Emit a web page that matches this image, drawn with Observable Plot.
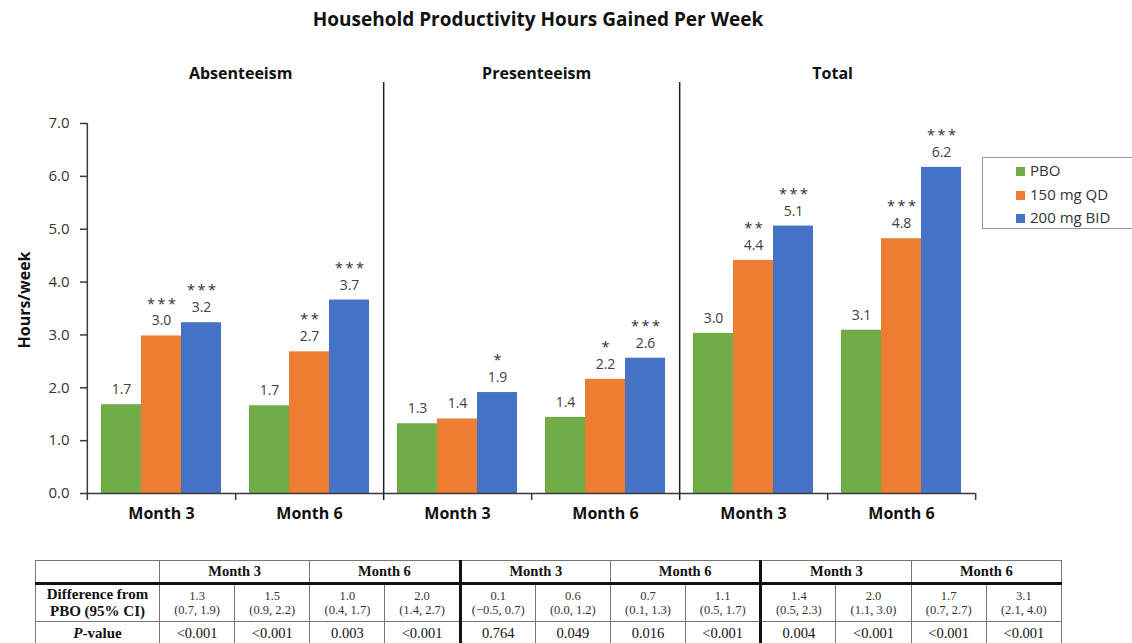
<!DOCTYPE html>
<html><head><meta charset="utf-8">
<script src="https://cdn.jsdelivr.net/npm/d3@7"></script>
<script src="https://cdn.jsdelivr.net/npm/@observablehq/plot@0.6"></script>
<style>
body{margin:0;background:#fff;}
#wrap{position:relative;width:1132px;height:643px;overflow:hidden;font-family:"Open Sans",sans-serif;color:#222;}
#title{position:absolute;left:0;top:6px;width:1076px;text-align:center;font-weight:bold;font-size:19px;color:#111;}
#chart{position:absolute;left:0;top:40px;}
#ylab{position:absolute;left:24px;top:300px;transform:translate(-50%,-50%) rotate(-90deg);font-weight:bold;font-size:16px;white-space:nowrap;color:#111;}
#legend{position:absolute;left:982px;top:157px;width:170px;height:72px;border:1.5px solid #999;box-sizing:border-box;}
.li{position:absolute;left:33px;font-size:15px;color:#333;line-height:20px;white-space:nowrap;}
.li span{display:inline-block;width:9px;height:9px;margin-right:5px;vertical-align:0px;}
#tbl{position:absolute;left:35px;top:560px;border-collapse:collapse;table-layout:fixed;width:1027px;font-family:"Liberation Serif","Times New Roman",serif;color:#111;}
#tbl td{border:1px solid #777;text-align:center;padding:0;}
#tbl tr.h td{font-weight:bold;font-size:14.5px;height:21px;border-bottom:3px solid #111;}
#tbl tr.d td{font-size:12.5px;line-height:14px;height:36px;color:#333;}
#tbl tr.p td{font-size:14.5px;height:22px;}
#tbl tr td.rh{font-weight:bold;font-size:15px;line-height:17px;color:#111;}
#tbl tr td.sep{border-left:3px solid #111;}
</style></head>
<body><div id="wrap">
<div id="title">Household Productivity Hours Gained Per Week</div>
<div id="chart"></div>
<div id="ylab">Hours/week</div>
<div id="legend"></div>
<table id="tbl"></table>
</div>
<script>
const panels = ["Absenteeism", "Presenteeism", "Total"];
const months = ["Month 3", "Month 6"];
const series = ["PBO", "150 mg QD", "200 mg BID"];
const colors = ["#70AD47", "#ED7D31", "#4472C4"];
// values per panel: [month][series]
const absenteeism = [[1.68, 2.98, 3.23], [1.66, 2.68, 3.66]];
const presenteeism = [[1.32, 1.41, 1.91], [1.44, 2.16, 2.56]];
const total = [[3.03, 4.41, 5.06], [3.09, 4.82, 6.17]];
const absenteeismStars = [["", "***", "***"], ["", "**", "***"]];
const presenteeismStars = [["", "", "*"], ["", "*", "***"]];
const totalStars = [["", "**", "***"], ["", "***", "***"]];
const yTicks = [0, 1, 2, 3, 4, 5, 6, 7];

// table
const diffEst = ["1.3","1.5","1.0","2.0","0.1","0.6","0.7","1.1","1.4","2.0","1.7","3.1"];
const diffCI = ["(0.7, 1.9)","(0.9, 2.2)","(0.4, 1.7)","(1.4, 2.7)","(\u22120.5, 0.7)","(0.0, 1.2)","(0.1, 1.3)","(0.5, 1.7)","(0.5, 2.3)","(1.1, 3.0)","(0.7, 2.7)","(2.1, 4.0)"];
const pValues = ["<0.001","<0.001","0.003","<0.001","0.764","0.049","0.016","<0.001","0.004","<0.001","<0.001","<0.001"];

const valuesByPanel = [absenteeism, presenteeism, total];
const starsByPanel = [absenteeismStars, presenteeismStars, totalStars];
const groups = [];
const data = [];
panels.forEach((p, pi) => months.forEach((m, mi) => {
  const g = p + "|" + m;
  groups.push(g);
  series.forEach((s, si) => data.push({g, panel: p, month: m, series: s,
    value: valuesByPanel[pi][mi][si], stars: starsByPanel[pi][mi][si]}));
}));
const panelFirst = panels.map(p => p + "|" + months[0]);
const panelLast = panels.map(p => p + "|" + months[months.length - 1]);

const W = 1132, H = 500, ML = 86, MR = 156, MT = 83, MB = 47;
const fw = (W - ML - MR) / groups.length;
const lineColor = "#3a3a3a";

const chart = Plot.plot({
  width: W, height: H,
  marginLeft: ML, marginRight: MR, marginTop: MT, marginBottom: MB,
  style: {fontFamily: "'Open Sans', sans-serif", overflow: "visible"},
  fx: {domain: groups, padding: 0, axis: null},
  x: {domain: series, paddingInner: 0, paddingOuter: 0.32, axis: null},
  y: {domain: [0, 7], axis: null},
  color: {domain: series, range: colors},
  marks: [
    Plot.barY(data, {fx: "g", x: "series", y: "value", fill: "series"}),
    Plot.text(data, {fx: "g", x: "series", y: "value", text: d => d.value.toFixed(1),
      dy: -15, fontSize: 14, fill: "#404040"}),
    Plot.text(data, {fx: "g", x: "series", y: "value", text: d => d.stars.split("").join("\u2009"),
      dy: -32, fontSize: 14.5, fill: "#303030"}),
    Plot.ruleY([0], {stroke: lineColor, strokeWidth: 1.5}),
    // y axis line with lower tick
    Plot.ruleX(panelFirst.slice(0, 1), {fx: d => d, x: null, y1: 7, y2: 0, dx: -fw / 2, insetBottom: -7, stroke: lineColor, strokeWidth: 1.5}),
    // panel separators
    Plot.ruleX(panelLast.slice(0, -1), {fx: d => d, x: null, y1: 7, y2: 0, dx: fw / 2, insetTop: -41, insetBottom: -7, stroke: "#222", strokeWidth: 1.5}),
    // small category ticks
    Plot.ruleX(panelFirst.concat(panelLast.slice(-1)), {fx: d => d, x: null, y1: 0, y2: 0, dx: fw / 2, insetBottom: -7, stroke: lineColor, strokeWidth: 1.5}),
    Plot.axisY({ticks: yTicks, tickFormat: d3.format(".1f"), tickSize: 7, tickPadding: 11,
      fontSize: 15, color: "#333", stroke: lineColor, strokeWidth: 1.5, label: null}),
    Plot.axisFx({anchor: "bottom", tickSize: 0, tickPadding: 14, tickFormat: k => k.split("|")[1],
      fontSize: 16, fontWeight: "bold", color: "#111", label: null}),
    Plot.text(panels, {fx: (d, i) => panelFirst[i], x: null, text: d => d, frameAnchor: "top",
      dx: fw / 2 + 5, dy: -56, fontSize: 16, fontWeight: "bold", fill: "#111"})
  ]
});
document.getElementById("chart").appendChild(chart);

// legend
const leg = document.getElementById("legend");
series.forEach((s, i) => {
  const d = document.createElement("div");
  d.className = "li";
  d.style.top = (2 + i * 23.5) + "px";
  d.innerHTML = `<span style="background:${colors[i]}"></span>${s}`;
  leg.appendChild(d);
});

// table
const tbl = document.getElementById("tbl");
const colg = document.createElement("colgroup");
colg.innerHTML = `<col style="width:124px">` + diffEst.map(() => `<col>`).join("");
tbl.appendChild(colg);
const isSep = j => j > 0 && j % (months.length * 2) === 0;
let h = `<tr class="h"><td></td>`;
panels.forEach((p, pi) => months.forEach((m, mi) => {
  h += `<td colspan="2" class="${pi > 0 && mi === 0 ? "sep" : ""}">${m}</td>`;
}));
h += `</tr>`;
h += `<tr class="d"><td class="rh">Difference from<br>PBO (95% CI)</td>` +
  diffEst.map((v, j) => `<td class="${isSep(j) ? "sep" : ""}">${v}<br>${diffCI[j]}</td>`).join("") + `</tr>`;
h += `<tr class="p"><td class="rh"><i>P</i>-value</td>` +
  pValues.map((v, j) => `<td class="${isSep(j) ? "sep" : ""}">${v.replace("<", "&lt;")}</td>`).join("") + `</tr>`;
tbl.innerHTML += h;
</script>
</body></html>
